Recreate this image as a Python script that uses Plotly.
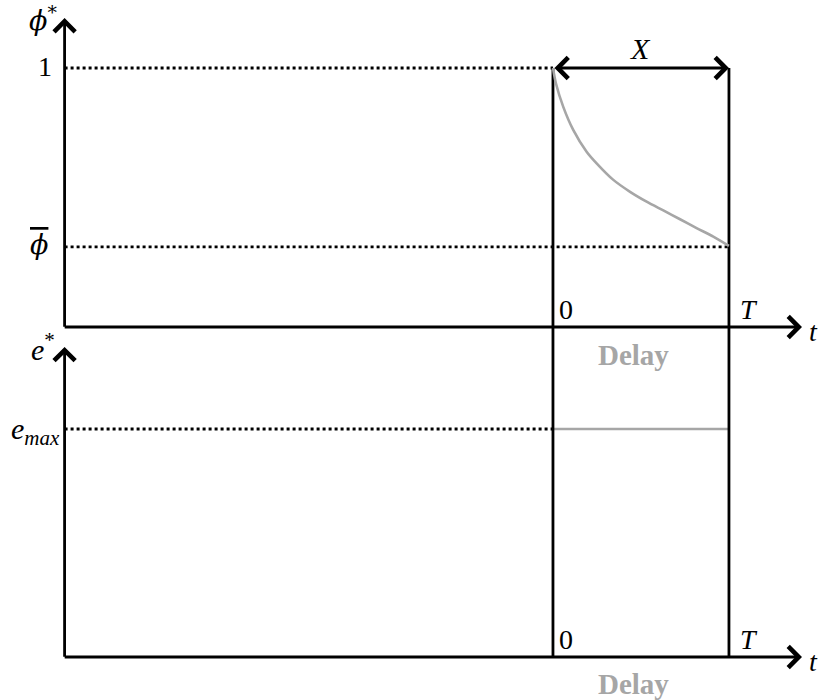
import plotly.graph_objects as go

# schematic values (time in units of T, phi and e normalised)
t_zero = 0.0
t_T = 1.0
t_axis = -2.775          # where the vertical axes sit
t_tip = 1.415            # end of the t arrows
phi_one = 1.0
phi_bar = 0.309
phi_tip = 1.193
e_max = 1.0
e_tip = 1.36

# decaying phi* curve during the delay
t_curve = [0.0, 0.017, 0.058, 0.115, 0.191, 0.248, 0.343, 0.438,
           0.532, 0.627, 0.722, 0.816, 0.911, 1.0]
phi_curve = [1.0, 0.94, 0.851, 0.761, 0.677, 0.632, 0.568, 0.522,
             0.484, 0.450, 0.416, 0.382, 0.349, 0.313]

BLACK = "#000000"
GREY = "#a6a6a6"
FONT = "Liberation Serif, DejaVu Serif"
GREEK = "DejaVu Serif"
LW = 2.8

top_range = [-0.0309, 1.2625]
bot_range = [-0.1886, 1.4123]
split = 1 - 335 / 700

fig = go.Figure()


def seg(x, y, ax, color=BLACK, dash="solid", width=LW, shape="linear"):
    fig.add_trace(go.Scatter(
        x=x, y=y, xaxis="x", yaxis=ax, mode="lines",
        line=dict(color=color, width=width, dash=dash, shape=shape, smoothing=0.8),
        hoverinfo="skip", showlegend=False))


# top panel
seg([t_axis, t_zero], [phi_one, phi_one], "y", dash="dot")
seg([t_axis, t_T], [phi_bar, phi_bar], "y", dash="dot")
seg([t_zero, t_zero], [phi_one, top_range[0]], "y")
seg([t_T, t_T], [phi_one, top_range[0]], "y")
seg(t_curve, phi_curve, "y", color=GREY, width=2.6, shape="spline")

# bottom panel
seg([t_axis, t_zero], [e_max, e_max], "y2", dash="dot")
seg([t_zero, t_T], [e_max, e_max], "y2", color=GREY, width=2.6)
seg([t_zero, t_zero], [bot_range[1], 0], "y2")
seg([t_T, t_T], [bot_range[1], 0], "y2")

annotations = []


def arrow(x, y, ax, ay, yref, side="end"):
    annotations.append(dict(
        x=x, y=y, ax=ax, ay=ay, xref="x", yref=yref, axref="x", ayref=yref,
        text="", showarrow=True, arrowhead=4, startarrowhead=4,
        arrowside=side, arrowsize=1.45, startarrowsize=1.45,
        arrowwidth=LW, arrowcolor=BLACK, standoff=0, startstandoff=0))


# axes with arrow heads
arrow(t_tip, 0, t_axis - 0.008, 0, "y")
arrow(t_axis, phi_tip, t_axis, -0.005, "y")
arrow(t_tip, 0, t_axis - 0.008, 0, "y2")
arrow(t_axis, e_tip, t_axis, -0.006, "y2")
# X span arrow
arrow(t_T, phi_one, t_zero, phi_one, "y", side="end+start")


def label(text, x, y, yref, xanchor="center", yanchor="middle",
          xshift=0, yshift=0, size=28, color=BLACK, family=FONT):
    annotations.append(dict(
        text=text, x=x, y=y, xref="x", yref=yref, showarrow=False,
        xanchor=xanchor, yanchor=yanchor, xshift=xshift, yshift=yshift,
        font=dict(family=family, size=size, color=color)))


label("<i>ϕ</i><sup>*</sup>", t_axis, phi_tip, "y", xanchor="right",
      xshift=-6, yshift=0, size=27, family=GREEK)
label("1", t_axis, phi_one, "y", xanchor="right", xshift=-11, yshift=1)
label("<span style='text-decoration:overline'><i>ϕ</i></span>", t_axis, phi_bar, "y",
      xanchor="right", xshift=-15, yshift=2, size=27, family=GREEK)
label("<i>X</i>", (t_zero + t_T) / 2, phi_one, "y", yanchor="bottom", yshift=1, size=30)
label("0", t_zero, 0, "y", xanchor="left", yanchor="bottom", xshift=4, yshift=0)
label("<i>T</i>", t_T, 0, "y", xanchor="left", yanchor="bottom", xshift=9, yshift=0)
label("<i>t</i>", t_tip, 0, "y", xanchor="left", xshift=5, yshift=-4)
label("<b>Delay</b>", 0.455, 0, "y", yshift=-28, size=29, color=GREY)

label("<i>e</i><sup>*</sup>", t_axis, e_tip, "y2", xanchor="right", xshift=-8, yshift=0, size=30)
label("<i>e<sub>max</sub></i>", t_axis, e_max, "y2", xanchor="right", xshift=-3, yshift=-2, size=30)
label("0", t_zero, 0, "y2", xanchor="left", yanchor="bottom", xshift=4, yshift=0)
label("<i>T</i>", t_T, 0, "y2", xanchor="left", yanchor="bottom", xshift=9, yshift=0)
label("<i>t</i>", t_tip, 0, "y2", xanchor="left", xshift=5, yshift=-4)
label("<b>Delay</b>", 0.455, 0, "y2", yshift=-27, size=29, color=GREY)

hidden = dict(visible=False, showgrid=False, zeroline=False, fixedrange=True)
fig.update_layout(
    width=824, height=700,
    margin=dict(l=0, r=0, t=0, b=0),
    paper_bgcolor="white", plot_bgcolor="rgba(0,0,0,0)",
    xaxis=dict(range=[-3.142, 1.540], **hidden),
    yaxis=dict(range=top_range, domain=[split, 1], **hidden),
    yaxis2=dict(range=bot_range, domain=[0, split], anchor="x", **hidden),
    annotations=annotations,
    showlegend=False,
)

# the page's default body margin would shift the picture by 8px
fig.write_html("out.html", config={"displayModeBar": False},
               post_script="document.body.style.margin='0';")
